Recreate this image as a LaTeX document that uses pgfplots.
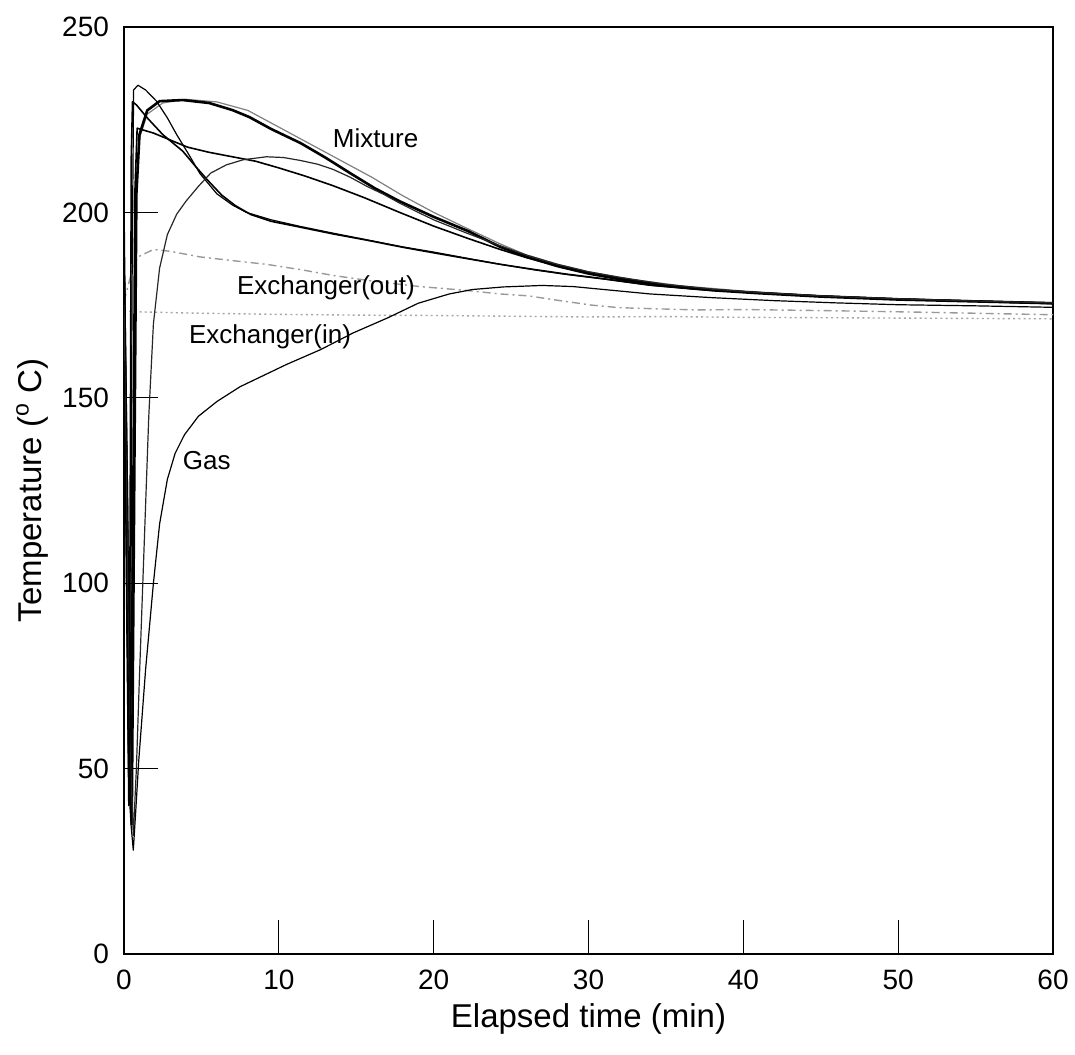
\documentclass[border=0pt]{standalone}
\usepackage{fontspec}
\setmainfont{Liberation Sans}
\usepackage{pgfplots}
\pgfplotsset{compat=1.18}
\usetikzlibrary{calc}
\begin{document}
\begin{tikzpicture}
\begin{axis}[
  scale only axis, width=464.5pt, height=463.5pt,
  xmin=0, xmax=60, ymin=0, ymax=250,
  xtick={0,10,...,60}, ytick={0,50,...,250},
  tick align=inside, xtick pos=left, ytick pos=left,
  major tick length=17pt,
  tick style={line width=0.5pt, black},
  axis line style={line width=0.7pt},
  /pgf/number format/assume math mode=true,
  ticklabel style={font=\fontsize{14}{16}\selectfont},
  xticklabel style={yshift=-4.5pt},
  yticklabel style={xshift=-4pt},
  label style={font=\fontsize{16.5}{20}\selectfont},
  xlabel={Elapsed time (min)},
  ylabel={Temperature (\textsuperscript{o} C)},
  xlabel style={at={(axis description cs:0.5,-0.0701)}, anchor=center},
  ylabel style={at={(axis description cs:-0.099,0.5)}, anchor=center},
  every axis plot/.append style={no markers, line join=round},
]
% Exchanger(in)
\addplot[gray!70, line width=0.7pt, dash pattern=on 1pt off 1.6pt] coordinates {
(0,173.5)(0.6,173.2)(5,172.8)(10,172.5)(15,172.3)(20,172.2)(25,172)(30,171.8)
(35,171.9)(40,171.7)(45,171.6)(50,171.5)(55,171.4)(60,171.3)};
% Exchanger(out)
\addplot[gray!80, line width=0.7pt, dash pattern=on 4pt off 2pt on 1pt off 2pt] coordinates {
(0,176)(0.5,184)(0.9,188)(1.9,190)(3,189.5)(4.9,188)(7,187)(9.2,186)(11.5,184.5)
(13.5,183)(16,181.5)(19.1,180)(22,179)(24.3,178)(26.1,177.5)(28,176.3)(30.2,175)
(32,174.3)(34.4,174)(37,173.7)(40,173.8)(45.4,173.5)(50,173.2)(55,172.8)(60,172.4)};
% Mixture D (thin grey, above C)
\addplot[gray, line width=0.6pt] coordinates {
(0,190)(0.25,100)(0.45,40)(0.6,100)(0.75,200)(1.0,220)(1.5,226.5)(2.5,229.5)(4,230.5)
(6,229.8)(8,227.5)(10,223)(12,218.5)(14,214)(16,209.5)(18,204.5)(20,200)(22,196)
(24.3,191.5)(26,188.5)(28,186)(30,184)(33,181.8)(36,180.2)(40,178.8)(45,177.5)
(50,176.7)(55,176.1)(60,175.7)};
% Mixture C (thick)
\addplot[black, line width=1.3pt] coordinates {
(0,183)(0.2,120)(0.35,45)(0.5,35)(0.65,120)(0.8,205)(1.0,221)(1.5,227.5)(2.3,230)
(3.8,230.3)(5.5,229.5)(7,227.6)(8.1,225.7)(9.5,222.5)(11.4,218.7)(13,214.8)(14.6,210.6)
(16.2,206.5)(17.8,203)(20,198.8)(22.2,195)(24.3,190.7)(26,188)(28,185.5)(30,183.5)
(32,182)(35,180.3)(38,179)(41,178.2)(45,177.3)(50,176.5)(55,176)(60,175.5)};
% Mixture A
\addplot[black, line width=0.6pt] coordinates {
(0,178)(0.15,100)(0.3,40)(0.42,60)(0.52,180)(0.62,233)(0.9,234.3)(1.4,233)(2.1,230)
(2.8,225.5)(3.4,221)(4.2,215.5)(4.9,210.5)(6,205)(7,202)(7.9,200)(9.5,198)(11.4,196.2)
(13.5,194.4)(15.7,192.6)(18,190.7)(20,189.3)(22.2,187.6)(24.3,186)(26.5,184.5)
(28.5,183.3)(31,182)(34,180.3)(37,179.2)(40,178.5)(45,177.4)(50,176.6)(55,176)(60,175.4)};
% Mixture B
\addplot[black, line width=0.8pt] coordinates {
(0,200)(0.12,150)(0.25,70)(0.33,45)(0.4,120)(0.47,215)(0.55,229.8)(0.8,229)(1.5,225.5)
(2.5,221)(3.8,216.5)(4.6,212.5)(5.4,208.7)(6.3,204.7)(7.2,201.8)(8.2,199.4)(9.5,197.6)
(11.4,196)(13.5,194.2)(15.7,192.5)(18,190.6)(20,189.1)(22.2,187.5)(24.3,186)(26.5,184.6)
(28.5,183.4)(31,182.1)(34,180.4)(37,179.3)(40,178.6)(45,177.5)(50,176.7)(55,176.1)(60,175.5)};
% Mixture E (peak ~223)
\addplot[black, line width=0.8pt] coordinates {
(0,186)(0.2,130)(0.4,50)(0.55,110)(0.7,205)(0.85,222.7)(1.9,221.4)(3,219.5)(4.1,217.6)
(5.5,216.2)(7,215)(8.5,213.8)(10,212)(11.7,209.8)(13.5,207.2)(15.5,204)(17.8,200)
(20,196.3)(22.2,193)(24.3,190)(26,187.8)(28,185.6)(30,183.8)(32,182.3)(35,180.4)
(38,179.2)(41,178.3)(45,177.4)(50,176.6)(55,176)(60,175.4)};
% Mixture F (slow rise, peak ~215)
\addplot[black!85, line width=0.6pt] coordinates {
(0,175)(0.35,60)(0.6,32)(0.8,50)(1.0,75)(1.3,110)(1.6,145)(1.9,170)(2.3,185)(2.8,194)
(3.4,199.5)(4,203)(4.8,207)(5.6,210.6)(6.6,212.8)(7.7,214.2)(9.2,215)(10.3,214.8)
(11.4,214)(12.5,213)(13.5,211.6)(14.6,209.5)(15.7,207)(16.8,204.8)(17.8,202.5)(19,200)
(20,198)(22.2,194.3)(24.3,191)(26,188.5)(28,186)(30,184)(32,182.5)(35,180.6)(38,179.3)
(41,178.4)(45,177.5)(50,176.7)(55,176.1)(60,175.6)};
% Gas
\addplot[black, line width=0.6pt] coordinates {
(0,160)(0.2,90)(0.45,35)(0.6,28)(0.75,38)(0.95,52)(1.4,77)(1.9,100)(2.3,116)(2.8,128)
(3.3,135)(3.9,140)(4.8,145)(6,149)(7.5,153)(9,156)(10.5,159)(12.7,163)(14.8,167.5)
(17,171.5)(19,175.5)(21,178)(22.5,179.2)(24.5,179.9)(27,180.3)(29,180)(31,179.2)
(34,178)(38,177)(42,176.2)(46,175.6)(50,175.1)(55,174.8)(60,174.4)};
\node[font=\fontsize{13}{15}\selectfont, inner sep=0pt] at (axis cs:16.25,219.9) {Mixture};
\node[font=\fontsize{13}{15}\selectfont, inner sep=0pt] at (axis cs:13.04,179.8) {Exchanger(out)};
\node[font=\fontsize{13}{15}\selectfont, inner sep=0pt] at (axis cs:9.43,166.5) {Exchanger(in)};
\node[font=\fontsize{13}{15}\selectfont, inner sep=0pt] at (axis cs:5.34,133) {Gas};
\end{axis}
\pgfresetboundingbox
\path[use as bounding box] ($(current axis.south west)+(-62pt,-50pt)$) rectangle ($(current axis.north east)+(11pt,13.5pt)$);
\end{tikzpicture}
\end{document}
